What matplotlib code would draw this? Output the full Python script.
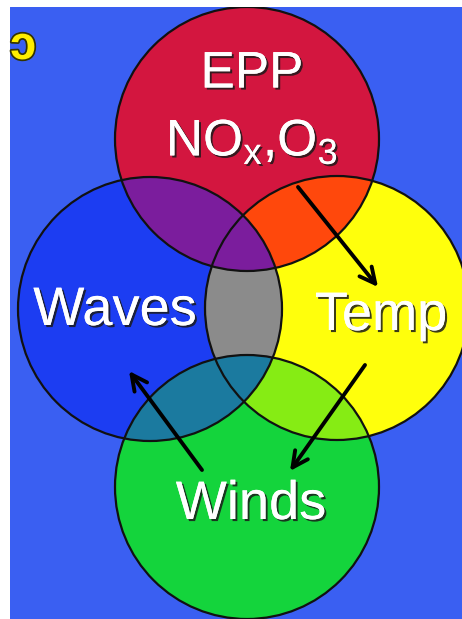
"""
Four overlapping circles (EPP / Waves / Temp / Winds) with arrows between them
"""

#imports
import matplotlib
matplotlib.use("Agg")
import matplotlib.pyplot as plt
from matplotlib.patches import Circle
import matplotlib.patheffects as pe

plt.rcParams['font.family'] = ['Liberation Sans', 'DejaVu Sans']
plt.rcParams['mathtext.fontset'] = 'custom'
plt.rcParams['mathtext.rm'] = 'Liberation Sans'

#data
names = ["EPP", "Waves", "Temp", "Winds"]
labels = ["EPP\nNO$_\\mathregular{x}$,O$_\\mathregular{3}$", "Waves", "Temp", "Winds"]
colors = ["#d3163f", "#1c3df2", "#ffff0c", "#14d43c"]
# (circle a, circle b, colour of overlap), drawn in this order
overlaps = [("Waves", "Temp", "#8b8b8b"),
            ("EPP", "Temp", "#ff480c"),
            ("EPP", "Waves", "#7b1d9d"),
            ("Temp", "Winds", "#86ec14"),
            ("Waves", "Winds", "#1b7a9f")]
arrows = [("EPP", "Temp"), ("Temp", "Winds"), ("Winds", "Waves")]

#layout in pixel coordinates
centers = {"EPP": (247, 139), "Waves": (150, 309), "Temp": (337, 308), "Winds": (247, 487)}
radius = 132
text_pos = {"EPP": (252, 108), "Waves": (115, 311), "Temp": (381, 316), "Winds": (251, 505)}
font_size = {"EPP": 37, "Waves": 39, "Temp": 39, "Winds": 39}
arrow_pos = {("EPP", "Temp"): ((298, 187), (378, 287)),
             ("Temp", "Winds"): ((365, 365), (290, 471)),
             ("Winds", "Waves"): ((202, 470), (129, 371))}

fig = plt.figure(figsize=(4.62, 6.19), dpi=100, facecolor="white")
ax = fig.add_axes([10 / 462, 0, 452 / 462, 612 / 619])
ax.set_xlim(10, 462)
ax.set_ylim(619, 7)
ax.set_axis_off()
ax.add_patch(plt.Rectangle((10, 7), 452, 612, color="#3a5ff2", zorder=0))

#opaque circles
patches = {}
for name, col in zip(names, colors):
    c = Circle(centers[name], radius, facecolor=col, edgecolor="none", zorder=1)
    ax.add_patch(c)
    patches[name] = c

#overlaps, clipped to the other circle
for a, b, col in overlaps:
    c = Circle(centers[a], radius, facecolor=col, edgecolor="none", zorder=2)
    ax.add_patch(c)
    c.set_clip_path(patches[b])

#outlines
for name in names:
    ax.add_patch(Circle(centers[name], radius, facecolor="none", edgecolor="#111111",
                        lw=1.6, zorder=3))

#text
shadow = [pe.withSimplePatchShadow(offset=(1.5, -1.5), shadow_rgbFace="#1a1a1a", alpha=0.85),
          pe.Normal()]
for name, lab in zip(names, labels):
    x, y = text_pos[name]
    ax.text(x, y, lab, color="white", fontsize=font_size[name],
            ha="center", va="center", linespacing=1.5, zorder=5, path_effects=shadow)

#arrows
for key in arrows:
    tail, head = arrow_pos[key]
    ax.annotate("", xy=head, xytext=tail, zorder=6,
                arrowprops=dict(arrowstyle="->", lw=2.8, color="black",
                                mutation_scale=28, shrinkA=0, shrinkB=0))

#small yellow glyph at top left
ax.text(10, 47, "\u0254", color="#ffee00", fontsize=34, fontweight="bold", ha="left",
        va="center", zorder=5,
        path_effects=[pe.withStroke(linewidth=2.5, foreground="#333300")])

fig.savefig("out.png", dpi=100, facecolor="white")
